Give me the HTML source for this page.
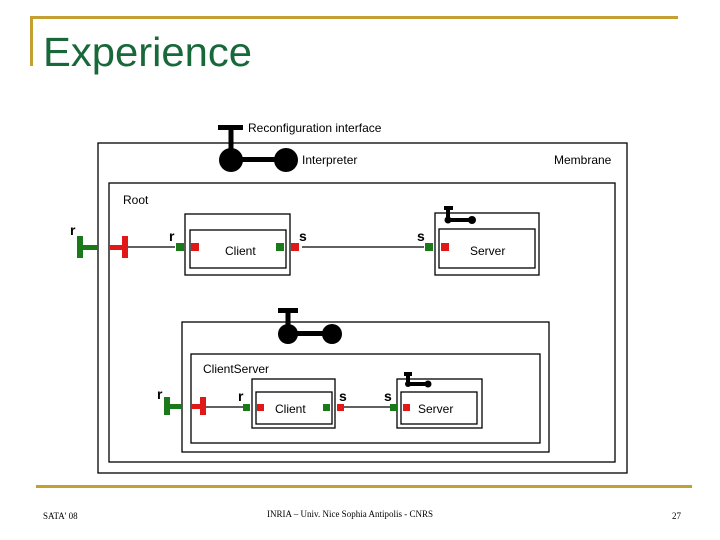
<!DOCTYPE html>
<html><head><meta charset="utf-8"><style>
html,body{margin:0;padding:0;background:#fff;width:720px;height:540px;overflow:hidden}
</style></head><body>
<svg width="720" height="540" viewBox="0 0 720 540" xmlns="http://www.w3.org/2000/svg" font-family="Liberation Sans, sans-serif">
<rect x="0" y="0" width="720" height="540" fill="#fff"/>
<rect x="30" y="16" width="648" height="3" fill="#c4a032"/>
<rect x="30" y="16" width="3" height="50" fill="#c4a032"/>
<text x="43" y="66" font-size="41" fill="#18683a" textLength="209" lengthAdjust="spacingAndGlyphs">Experience</text>
<rect x="36" y="485" width="656" height="3" fill="#c4a032"/>
<text x="43" y="519" font-size="9" font-family="Liberation Serif, serif" fill="#000">SATA' 08</text>
<text x="350" y="517" font-size="9" font-family="Liberation Serif, serif" fill="#000" text-anchor="middle">INRIA – Univ. Nice Sophia Antipolis - CNRS</text>
<text x="672" y="519" font-size="9" font-family="Liberation Serif, serif" fill="#000">27</text>

<g fill="none" stroke="#000" stroke-width="1.3">
<rect x="98" y="143" width="529" height="330"/>
<rect x="109" y="183" width="506" height="279"/>
<rect x="185" y="214" width="105" height="61"/>
<rect x="190" y="230" width="96" height="38"/>
<rect x="435" y="213" width="104" height="62"/>
<rect x="439" y="229" width="96" height="39"/>
<rect x="182" y="322" width="367" height="130"/>
<rect x="191" y="354" width="349" height="89"/>
<rect x="252" y="379" width="83" height="49"/>
<rect x="256" y="392" width="76" height="32"/>
<rect x="397" y="379" width="85" height="49"/>
<rect x="401" y="392" width="76" height="32"/>
<line x1="128" y1="247" x2="175" y2="247"/>
<line x1="302" y1="247" x2="424" y2="247"/>
<line x1="206" y1="407" x2="243" y2="407"/>
<line x1="344" y1="407" x2="390" y2="407"/>
</g>

<rect x="218" y="125" width="25" height="5" fill="#000"/>
<rect x="228.5" y="125" width="5" height="35" fill="#000"/>
<rect x="230" y="157" width="56" height="5" fill="#000"/>
<circle cx="231" cy="160" r="12" fill="#000"/>
<circle cx="286" cy="160" r="12" fill="#000"/>
<text x="248" y="132" font-size="12">Reconfiguration interface</text>
<text x="302" y="164" font-size="12">Interpreter</text>
<text x="554" y="164" font-size="12">Membrane</text>
<text x="123" y="204" font-size="12">Root</text>

<rect x="278" y="308" width="20" height="5" fill="#000"/>
<rect x="285.5" y="308" width="5" height="25" fill="#000"/>
<rect x="288" y="331" width="44" height="5" fill="#000"/>
<circle cx="288" cy="334" r="10" fill="#000"/>
<circle cx="332" cy="334" r="10" fill="#000"/>
<text x="203" y="373" font-size="12">ClientServer</text>

<rect x="444" y="206" width="9" height="4" fill="#000"/>
<rect x="446" y="206" width="4" height="16" fill="#000"/>
<rect x="446" y="218" width="26" height="4" fill="#000"/>
<circle cx="448" cy="220" r="3.5" fill="#000"/>
<circle cx="472" cy="220" r="4" fill="#000"/>
<rect x="404" y="372" width="8" height="4" fill="#000"/>
<rect x="406" y="372" width="4" height="14" fill="#000"/>
<rect x="406" y="382" width="23" height="4" fill="#000"/>
<circle cx="408" cy="384" r="3" fill="#000"/>
<circle cx="428" cy="384" r="3.5" fill="#000"/>

<rect x="77" y="236" width="6" height="22" fill="#1a7a1a"/>
<rect x="77" y="245" width="21" height="5" fill="#1a7a1a"/>
<rect x="122" y="236" width="6" height="22" fill="#e01818"/>
<rect x="109" y="245" width="19" height="5" fill="#e01818"/>
<rect x="176" y="243" width="8" height="8" fill="#1a7a1a"/>
<rect x="191" y="243" width="8" height="8" fill="#e01818"/>
<rect x="276" y="243" width="8" height="8" fill="#1a7a1a"/>
<rect x="291" y="243" width="8" height="8" fill="#e01818"/>
<rect x="425" y="243" width="8" height="8" fill="#1a7a1a"/>
<rect x="441" y="243" width="8" height="8" fill="#e01818"/>
<rect x="164" y="397" width="6" height="18" fill="#1a7a1a"/>
<rect x="164" y="404" width="18" height="5" fill="#1a7a1a"/>
<rect x="200" y="397" width="6" height="18" fill="#e01818"/>
<rect x="191" y="404" width="15" height="5" fill="#e01818"/>
<rect x="243" y="404" width="7" height="7" fill="#1a7a1a"/>
<rect x="257" y="404" width="7" height="7" fill="#e01818"/>
<rect x="323" y="404" width="7" height="7" fill="#1a7a1a"/>
<rect x="337" y="404" width="7" height="7" fill="#e01818"/>
<rect x="390" y="404" width="7" height="7" fill="#1a7a1a"/>
<rect x="403" y="404" width="7" height="7" fill="#e01818"/>

<g font-size="14" font-weight="bold">
<text x="70" y="235">r</text>
<text x="169" y="241">r</text>
<text x="299" y="241">s</text>
<text x="417" y="241">s</text>
<text x="157" y="399">r</text>
<text x="238" y="401">r</text>
<text x="339" y="401">s</text>
<text x="384" y="401">s</text>
</g>
<g font-size="12">
<text x="225" y="255">Client</text>
<text x="470" y="255">Server</text>
<text x="275" y="413">Client</text>
<text x="418" y="413">Server</text>
</g>
</svg>
</body></html>
